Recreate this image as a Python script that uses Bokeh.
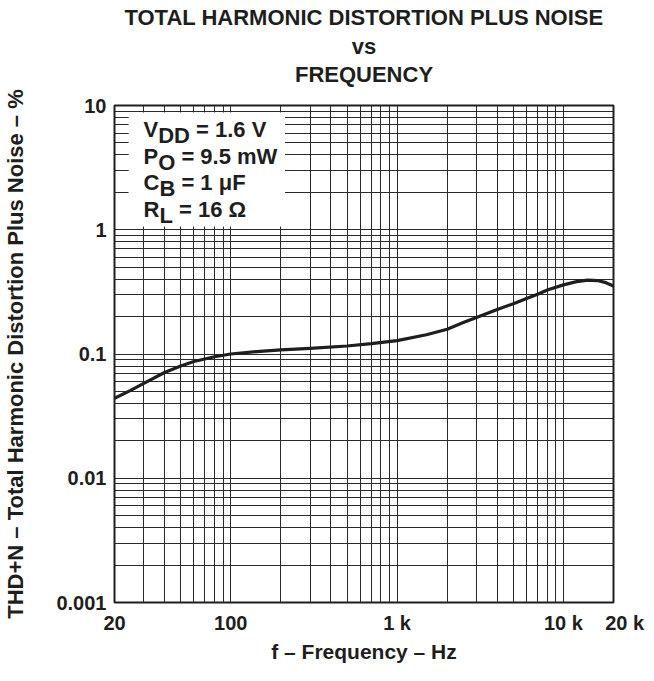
from bokeh.plotting import figure
from bokeh.models import FixedTicker, Label, BoxAnnotation, Title
from bokeh.embed import file_html
from bokeh.resources import INLINE

# ---- data ----
freq = [20, 25, 30, 40, 50, 60, 80, 100, 150, 200, 300, 500, 700, 1000,
        1500, 2000, 2500, 3000, 4000, 5000, 6000, 7000, 8000, 10000, 12000,
        14000, 16000, 18000, 20000]
thd = [0.044, 0.051, 0.058, 0.071, 0.080, 0.087, 0.095, 0.100, 0.105, 0.108,
       0.111, 0.116, 0.121, 0.128, 0.143, 0.158, 0.179, 0.197, 0.228, 0.254,
       0.280, 0.303, 0.327, 0.360, 0.382, 0.393, 0.390, 0.375, 0.353]

x_ticks = [20, 100, 1000, 10000, 20000]
x_tick_labels = ["20", "100", "1 k", "10 k", "\u00a0\u00a0\u00a0\u00a020 k"]
y_ticks = [0.001, 0.01, 0.1, 1, 10]
y_tick_labels = ["0.001", "0.01", "0.1", "1", "10"]

x_grid = [m * 10 ** e for e in (1, 2, 3) for m in range(1, 10) if m * 10 ** e >= 20] + [10000, 20000]
y_grid = [m * 10.0 ** e for e in (-3, -2, -1, 0) for m in range(1, 10)] + [10]

title_lines = ["TOTAL HARMONIC DISTORTION PLUS NOISE", "vs", "FREQUENCY"]
legend_main = ["V", "P", "C", "R"]
legend_sub = ["DD", "O", "B", "L"]
legend_rest = ["= 1.6 V", "= 9.5 mW", "= 1 \u03bcF", "= 16 \u03a9"]

FONT = "Liberation Sans"
INK = "#1e1e1e"

p = figure(width=646, height=665, x_axis_type="log", y_axis_type="log",
           x_range=(20, 20000), y_range=(0.001, 10),
           output_backend="svg", toolbar_location=None,
           min_border_left=106, min_border_right=33,
           min_border_top=105, min_border_bottom=55)
p.background_fill_color = "white"
p.border_fill_color = "white"
p.outline_line_color = INK
p.outline_line_width = 2

# grids
p.xgrid.ticker = FixedTicker(ticks=x_grid)
p.ygrid.ticker = FixedTicker(ticks=y_grid)
for g in (p.xgrid, p.ygrid):
    g.grid_line_color = "#2a2a2a"
    g.grid_line_width = 1
    g.grid_line_alpha = 1

# axes
p.xaxis.ticker = FixedTicker(ticks=x_ticks)
p.xaxis.major_label_overrides = {t: s for t, s in zip(x_ticks, x_tick_labels)}
p.yaxis.ticker = FixedTicker(ticks=y_ticks)
p.yaxis.major_label_overrides = {t: s for t, s in zip(y_ticks, y_tick_labels)}
for ax in (p.xaxis, p.yaxis):
    ax.axis_line_color = None
    ax.major_tick_line_color = None
    ax.minor_tick_line_color = None
    ax.major_tick_out = 0
    ax.major_tick_in = 0
    ax.major_label_text_font = FONT
    ax.major_label_text_font_style = "bold"
    ax.major_label_text_font_size = "20px"
    ax.major_label_text_color = INK
    ax.axis_label_text_font = FONT
    ax.axis_label_text_font_style = "bold"
    ax.axis_label_text_color = INK
p.xaxis.axis_label_text_font_size = "21px"
p.yaxis.axis_label_text_font_size = "22px"
p.xaxis.major_label_standoff = 9
p.yaxis.major_label_standoff = 8
p.xaxis.axis_label = "f \u2013 Frequency \u2013 Hz"
p.yaxis.axis_label = "THD+N \u2013 Total Harmonic Distortion Plus Noise \u2013 %"
p.xaxis.axis_label_standoff = 3
p.yaxis.axis_label_standoff = 25

# curve
p.line(freq, thd, line_color=INK, line_width=3.2, line_join="round")

# white box behind the conditions text
p.add_layout(BoxAnnotation(left=24.3, right=212, bottom=1.06, top=8.8,
                           fill_color="white", fill_alpha=1, line_color=None,
                           level="underlay"))

# condition text with subscripts
FS = 22
main_w = {"V": 0.667 * FS, "P": 0.667 * FS, "C": 0.722 * FS, "R": 0.722 * FS}
sub_w = {"DD": 1.444 * FS, "O": 0.778 * FS, "B": 0.722 * FS, "L": 0.611 * FS}
space_w = 0.278 * FS
base_y = [473, 446, 420, 393]
x0 = 29
for m, s, r, y in zip(legend_main, legend_sub, legend_rest, base_y):
    common = dict(y_units="screen", x_units="screen", text_baseline="alphabetic",
                  text_font=FONT, text_font_style="bold", text_font_size=f"{FS}px",
                  text_color=INK)
    p.add_layout(Label(x=x0, y=y, text=m, **common))
    xs = x0 + main_w[m]
    p.add_layout(Label(x=xs, y=y - 6, text=s, **common))
    p.add_layout(Label(x=xs + sub_w[s] + space_w, y=y, text=r, **common))

# white (invisible) spacer between frame and the title block
p.add_layout(Title(text="\u00a0", text_font_size="1px", text_color="white",
                   standoff=16), "above")
# titles (first added sits closest to the plot frame)
for t, so in zip(reversed(title_lines), [0, 2, 2]):
    p.add_layout(Title(text=t, align="center", text_font=FONT,
                       text_font_style="bold", text_font_size="22px",
                       text_color=INK, standoff=so), "above")

open("out.html", "w").write(file_html(p, INLINE))
